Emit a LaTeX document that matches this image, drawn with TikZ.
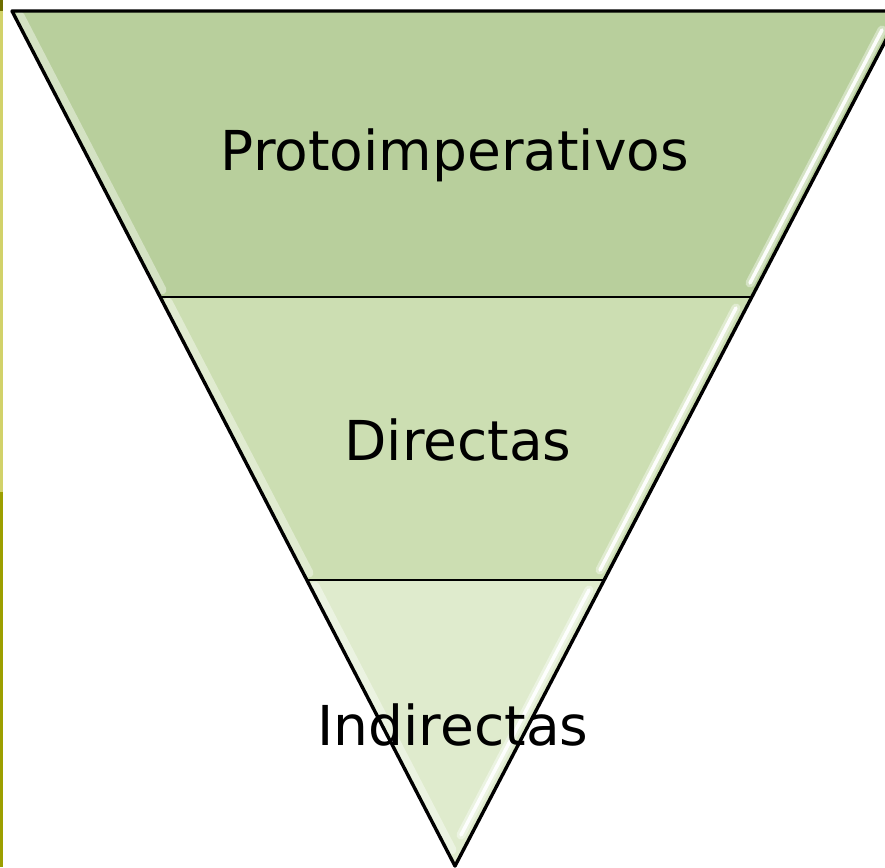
\documentclass[tikz,border=0pt]{standalone}
\usepackage{fontspec}
\newfontfamily\labelfont{DejaVu Sans}
\definecolor{bandA}{HTML}{B8CF9C}
\definecolor{bandB}{HTML}{CCDEB2}
\definecolor{bandC}{HTML}{DFEBCD}
\definecolor{oliveL}{HTML}{D2D26A}
\definecolor{oliveD}{HTML}{9C9F00}
\definecolor{oliveT}{HTML}{6E6E00}
\tikzset{
  edge/.style={black, line width=3.4pt, line join=round},
  sep/.style={black, line width=1.6pt},
  gloss/.style={white, line width=3.5pt, line cap=round, opacity=0.95},
  glow/.style={white, line width=9pt, line cap=round, opacity=0.4},
  lbl/.style={font=\labelfont\fontsize{55}{60}\selectfont, text=black, inner sep=0pt}
}
\begin{document}
\begin{tikzpicture}[x=1pt,y=-1pt]
\useasboundingbox (0,0) rectangle (885,867);
\fill[white] (0,0) rectangle (885,867);
\begin{scope}
\clip (0,0) rectangle (885,867);
% bands
\fill[bandA] (12,11) -- (901,11) -- (752,297) -- (160,297) -- cycle;
\fill[bandB] (160,297) -- (752,297) -- (604,580) -- (307,580) -- cycle;
\fill[bandC] (307,580) -- (604,580) -- (455,866) -- cycle;
% soft inner light along left edges
\draw[glow] (20,16) -- (162,290);
\draw[glow] (168,302) -- (309,573);
\draw[glow] (315,586) -- (452,850);
% gloss highlights near right edges
\draw[glow] (882,30) -- (750,283);
\draw[gloss] (882,30) -- (750,283);
\draw[glow] (736,308) -- (600,570);
\draw[gloss] (736,308) -- (600,570);
\draw[glow] (589,590) -- (461,835);
\draw[gloss] (589,590) -- (461,835);
% separators
\draw[sep] (160,297) -- (752,297);
\draw[sep] (307,580) -- (604,580);
% outline
\draw[edge] (901,11) -- (12,11) -- (455,866) -- (901,11);
\end{scope}
% left strip
\fill[oliveL] (0,0) rectangle (3,492);
\fill[oliveD] (0,492) rectangle (3,867);
\fill[oliveT] (0,0) rectangle (3,11);
% labels
\node[lbl] (p) at (455,155) {Protoimperativos};
\node[lbl] (d) at (458,440) {Directas};
\node[lbl] (i) at (453,725) {Indirectas};
\end{tikzpicture}
\end{document}
